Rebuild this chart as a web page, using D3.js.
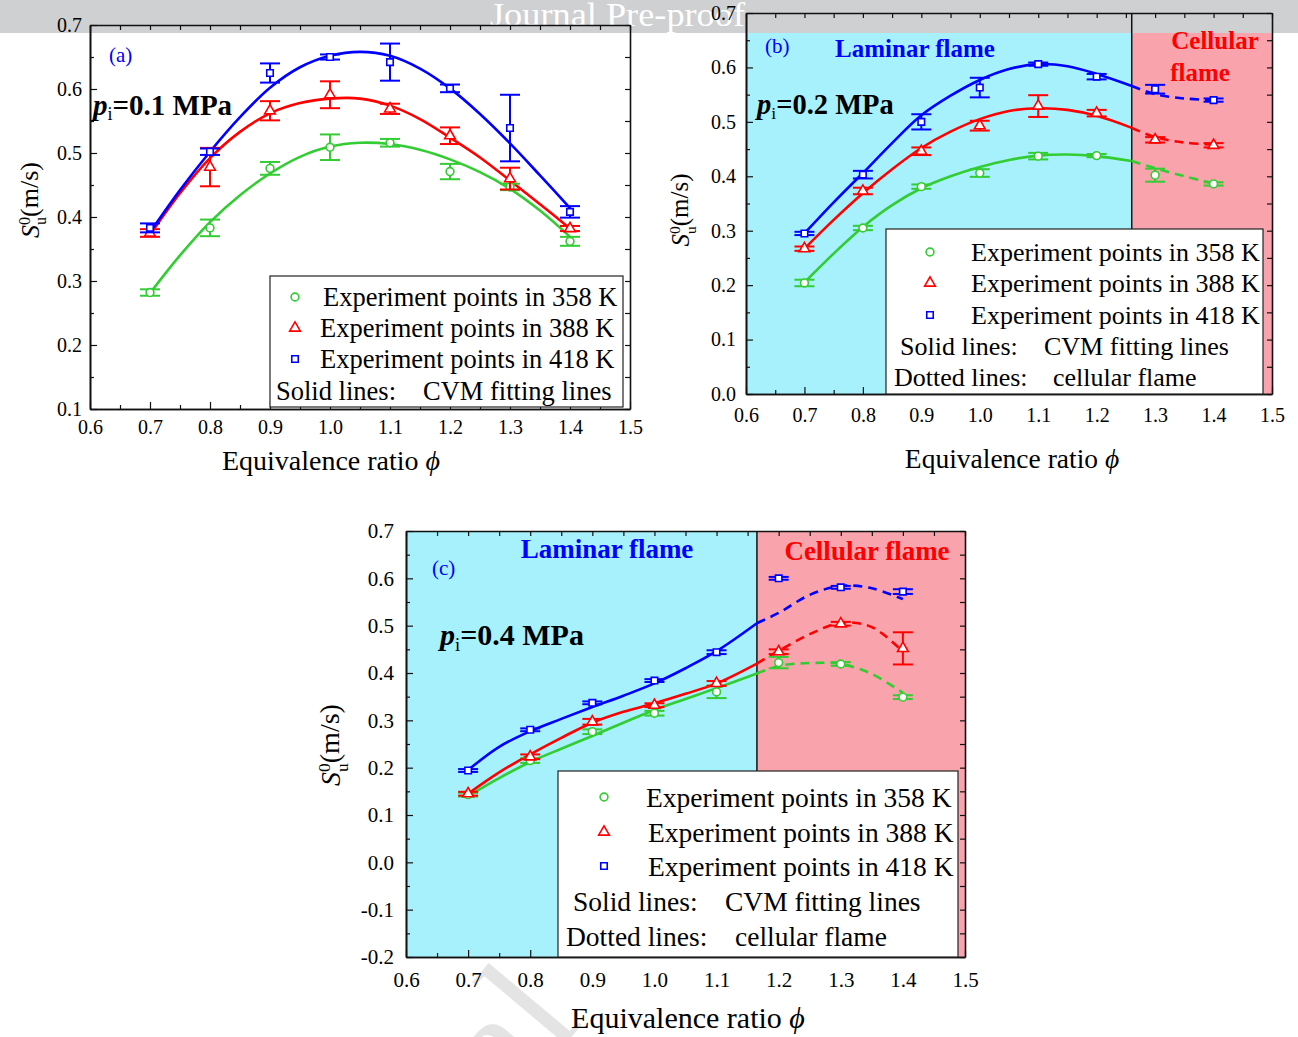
<!doctype html>
<html>
<head>
<meta charset="utf-8">
<script src="https://d3js.org/d3.v7.min.js"></script>
<style>
body { margin: 0; background: #fff; }
text { font-family: "Liberation Serif", "Times New Roman", serif; }
</style>
</head>
<body>
<script>
// equivalence ratio of the measured points
var phi = [0.7, 0.8, 0.9, 1.0, 1.1, 1.2, 1.3, 1.4];

// (a) 0.1 MPa
var a358 = [0.282, 0.383, 0.476, 0.509, 0.516, 0.471, 0.447, 0.362];
var a358Err = [0.005, 0.013, 0.010, 0.020, 0.006, 0.012, 0.005, 0.007];
var a388 = [0.375, 0.478, 0.566, 0.591, 0.569, 0.527, 0.460, 0.382];
var a388Err = [0.006, 0.030, 0.015, 0.021, 0.008, 0.013, 0.017, 0.004];
var a418 = [0.383, 0.502, 0.625, 0.650, 0.642, 0.601, 0.539, 0.408];
var a418Err = [0.007, 0.005, 0.015, 0.004, 0.029, 0.006, 0.052, 0.009];
var fitPhiA = [0.7, 0.75, 0.8, 0.85, 0.9, 0.95, 1.0, 1.05, 1.1, 1.15, 1.2, 1.25, 1.3, 1.35, 1.4];
var fitA358 = [0.281, 0.340, 0.392, 0.434, 0.468, 0.494, 0.510, 0.516, 0.514, 0.505, 0.490, 0.470, 0.444, 0.410, 0.369];
var fitA388 = [0.372, 0.437, 0.492, 0.533, 0.562, 0.578, 0.585, 0.585, 0.574, 0.553, 0.524, 0.493, 0.457, 0.420, 0.382];
var fitA418 = [0.376, 0.442, 0.502, 0.556, 0.602, 0.634, 0.652, 0.658, 0.652, 0.632, 0.601, 0.561, 0.515, 0.465, 0.414];

// (b) 0.2 MPa
var b358 = [0.204, 0.305, 0.381, 0.406, 0.437, 0.438, 0.402, 0.386];
var b358Err = [0.006, 0.004, 0.004, 0.007, 0.006, 0.003, 0.012, 0.003];
var b388 = [0.267, 0.373, 0.446, 0.493, 0.529, 0.516, 0.467, 0.457];
var b388Err = [0.004, 0.006, 0.007, 0.009, 0.020, 0.006, 0.005, 0.004];
var b418 = [0.295, 0.403, 0.500, 0.563, 0.606, 0.583, 0.560, 0.540];
var b418Err = [0.003, 0.007, 0.014, 0.018, 0.003, 0.005, 0.008, 0.003];
var divB = 1.26;
var fitPhiB = [0.7, 0.75, 0.8, 0.85, 0.9, 0.95, 1.0, 1.05, 1.1, 1.15, 1.2, 1.26, 1.3, 1.35, 1.4];
var fitB358 = [0.205, 0.258, 0.307, 0.347, 0.378, 0.400, 0.417, 0.430, 0.438, 0.440, 0.437, 0.428, 0.415, 0.400, 0.387];
var fitB388 = [0.267, 0.320, 0.369, 0.413, 0.452, 0.482, 0.505, 0.520, 0.525, 0.522, 0.511, 0.489, 0.472, 0.462, 0.458];
var fitB418 = [0.295, 0.352, 0.406, 0.461, 0.512, 0.548, 0.577, 0.597, 0.606, 0.602, 0.588, 0.566, 0.551, 0.543, 0.540];

// (c) 0.4 MPa
var c358 = [0.143, 0.215, 0.276, 0.315, 0.360, 0.422, 0.419, 0.349];
var c358Err = [0.004, 0.005, 0.005, 0.005, 0.013, 0.012, 0.004, 0.004];
var c388 = [0.145, 0.223, 0.297, 0.332, 0.378, 0.445, 0.504, 0.452];
var c388Err = [0.004, 0.005, 0.006, 0.004, 0.005, 0.005, 0.004, 0.034];
var c418 = [0.194, 0.280, 0.337, 0.384, 0.444, 0.600, 0.581, 0.572];
var c418Err = [0.003, 0.003, 0.003, 0.003, 0.004, 0.003, 0.003, 0.005];
var divC = 1.165;
var fitPhiC = [0.7, 0.75, 0.8, 0.85, 0.9, 0.95, 1.0, 1.05, 1.1, 1.165, 1.2, 1.25, 1.3, 1.35, 1.4];
var fitC358 = [0.140, 0.178, 0.212, 0.240, 0.267, 0.295, 0.322, 0.345, 0.368, 0.399, 0.415, 0.421, 0.419, 0.398, 0.358];
var fitC388 = [0.145, 0.190, 0.228, 0.263, 0.295, 0.318, 0.336, 0.356, 0.378, 0.420, 0.447, 0.482, 0.506, 0.497, 0.445];
var fitC418 = [0.195, 0.244, 0.277, 0.303, 0.328, 0.352, 0.378, 0.410, 0.446, 0.505, 0.527, 0.565, 0.584, 0.579, 0.556];

// ticks
var xTicks = [0.6, 0.7, 0.8, 0.9, 1.0, 1.1, 1.2, 1.3, 1.4, 1.5];
var yTicksA = [0.1, 0.2, 0.3, 0.4, 0.5, 0.6, 0.7];
var yTicksB = [0.0, 0.1, 0.2, 0.3, 0.4, 0.5, 0.6, 0.7];
var yTicksC = [-0.2, -0.1, 0.0, 0.1, 0.2, 0.3, 0.4, 0.5, 0.6, 0.7];

var legendLabels = ["Experiment points in 358 K", "Experiment points in 388 K", "Experiment points in 418 K"];

var green = "#33cc33", red = "#ff0000", blue = "#0000ff";
var cyan = "#a6f1fb", pink = "#f9a4ac";

var svg = d3.select("body").append("svg")
    .attr("width", 1298)
    .attr("height", 1037);

var bg = svg.append("g");
var banner = svg.append("g");
var main = svg.append("g");

// faint diagonal watermark, under the plot backgrounds
bg.append("text")
    .attr("transform", "translate(281,1383) rotate(-50)")
    .attr("font-family", "Liberation Sans, Arial, sans-serif")
    .attr("font-size", "160px")
    .attr("fill", "#000").attr("opacity", 0.1)
    .text("Journal");

banner.append("rect")
    .attr("x", 0).attr("y", 0)
    .attr("width", 1298).attr("height", 33)
    .attr("fill", "#cfd0d2");
banner.append("text")
    .attr("x", 490).attr("y", 26)
    .attr("font-size", "33px")
    .attr("textLength", 255).attr("lengthAdjust", "spacingAndGlyphs")
    .attr("fill", "#fff")
    .text("Journal Pre-proof");

function fmt(d) { return d.toFixed(1); }

function minors(ticks) {
    var m = [];
    for (var i = 0; i < ticks.length - 1; i++) m.push((ticks[i] + ticks[i + 1]) / 2);
    return m;
}

function styleAxis(sel, fs) {
    sel.attr("font-family", "Liberation Serif, serif").attr("font-size", fs);
    sel.select(".domain").attr("stroke", "#111").attr("stroke-width", 1.6);
    sel.selectAll(".tick line").attr("stroke", "#111").attr("stroke-width", 1.2);
    sel.selectAll(".tick text").attr("fill", "#000");
}

function drawPanel(p) {
    var x = d3.scaleLinear().domain([0.6, 1.5]).range([p.left, p.left + p.w]);
    var y = d3.scaleLinear().domain([p.yTicks[0], p.yTicks[p.yTicks.length - 1]]).range([p.top + p.h, p.top]);
    var yTop = p.yTicks[p.yTicks.length - 1], yBot = p.yTicks[0];

    // background
    if (p.div) {
        bg.append("rect").attr("x", x(0.6)).attr("y", y(yTop))
            .attr("width", x(p.div) - x(0.6)).attr("height", y(yBot) - y(yTop)).attr("fill", cyan);
        bg.append("rect").attr("x", x(p.div)).attr("y", y(yTop))
            .attr("width", x(1.5) - x(p.div)).attr("height", y(yBot) - y(yTop)).attr("fill", pink);
        main.append("line").attr("x1", x(p.div)).attr("x2", x(p.div))
            .attr("y1", y(yTop)).attr("y2", y(yBot)).attr("stroke", "#111").attr("stroke-width", 1.5);
    } else {
        bg.append("rect").attr("x", x(0.6)).attr("y", y(yTop))
            .attr("width", x(1.5) - x(0.6)).attr("height", y(yBot) - y(yTop)).attr("fill", "#fff");
    }

    var ax = main.append("g");
    ax.append("g").attr("transform", "translate(0," + y(yBot) + ")")
        .call(d3.axisBottom(x).tickValues(xTicks).tickSize(-7).tickSizeOuter(0).tickPadding(p.padX).tickFormat(fmt))
        .call(styleAxis, p.fs);
    ax.append("g").attr("transform", "translate(0," + y(yBot) + ")")
        .call(d3.axisBottom(x).tickValues(minors(xTicks)).tickSize(-4).tickSizeOuter(0).tickFormat(""))
        .call(styleAxis, p.fs);
    ax.append("g").attr("transform", "translate(0," + y(yTop) + ")")
        .call(d3.axisTop(x).tickValues(xTicks.concat(minors(xTicks))).tickSize(-5).tickSizeOuter(0).tickFormat(""))
        .call(styleAxis, p.fs);
    ax.append("g").attr("transform", "translate(" + x(0.6) + ",0)")
        .call(d3.axisLeft(y).tickValues(p.yTicks).tickSize(-7).tickSizeOuter(0).tickPadding(p.padY).tickFormat(fmt))
        .call(styleAxis, p.fs);
    ax.append("g").attr("transform", "translate(" + x(0.6) + ",0)")
        .call(d3.axisLeft(y).tickValues(minors(p.yTicks)).tickSize(-4).tickSizeOuter(0).tickFormat(""))
        .call(styleAxis, p.fs);
    ax.append("g").attr("transform", "translate(" + x(1.5) + ",0)")
        .call(d3.axisRight(y).tickValues(p.yTicks.concat(minors(p.yTicks))).tickSize(-5).tickSizeOuter(0).tickFormat(""))
        .call(styleAxis, p.fs);

    var line = d3.line()
        .x(function(d) { return x(d[0]); })
        .y(function(d) { return y(d[1]); })
        .curve(d3.curveCatmullRom.alpha(0.5));

    p.series.forEach(function(s) {
        var pts = p.fitPhi.map(function(f, i) { return [f, s.fit[i]]; });
        var cut = p.div || 9;
        main.append("path")
            .attr("d", line(pts.filter(function(d) { return d[0] <= cut + 1e-9; })))
            .attr("fill", "none").attr("stroke", s.color).attr("stroke-width", 2.6);
        if (p.div) {
            main.append("path")
                .attr("d", line(pts.filter(function(d) { return d[0] >= cut - 1e-9; })))
                .attr("fill", "none").attr("stroke", s.color).attr("stroke-width", 2.6)
                .attr("stroke-dasharray", "9,6");
        }
    });

    p.series.forEach(function(s) {
        var g = main.append("g").attr("stroke", s.color).attr("stroke-width", 2).attr("fill", "none");
        phi.forEach(function(f, i) {
            var cx = x(f), y1 = y(s.vals[i] + s.err[i]), y2 = y(s.vals[i] - s.err[i]);
            g.append("line").attr("x1", cx).attr("x2", cx).attr("y1", y1).attr("y2", y2);
            g.append("line").attr("x1", cx - 10).attr("x2", cx + 10).attr("y1", y1).attr("y2", y1);
            g.append("line").attr("x1", cx - 10).attr("x2", cx + 10).attr("y1", y2).attr("y2", y2);
        });
        g.selectAll("path.pt")
            .data(phi.map(function(f, i) { return [f, s.vals[i]]; }))
            .enter().append("path")
            .attr("class", "pt")
            .attr("transform", function(d) { return "translate(" + x(d[0]) + "," + y(d[1]) + ")"; })
            .attr("d", d3.symbol().type(s.sym).size(s.size))
            .attr("fill", "#fff").attr("stroke-width", 1.6);
    });
    return { x: x, y: y };
}

function seriesSet(v1, e1, f1, v2, e2, f2, v3, e3, f3) {
    return [
        { vals: v1, err: e1, fit: f1, color: green, sym: d3.symbolCircle, size: 48 },
        { vals: v2, err: e2, fit: f2, color: red, sym: d3.symbolTriangle, size: 50 },
        { vals: v3, err: e3, fit: f3, color: blue, sym: d3.symbolSquare, size: 42 }
    ];
}

drawPanel({ left: 90, top: 25, w: 540, h: 384, yTicks: yTicksA, fs: "20px", padX: 11, padY: 8,
    fitPhi: fitPhiA, series: seriesSet(a358, a358Err, fitA358, a388, a388Err, fitA388, a418, a418Err, fitA418) });
drawPanel({ left: 746, top: 13, w: 526, h: 381, yTicks: yTicksB, fs: "20px", padX: 14, padY: 10, div: divB,
    fitPhi: fitPhiB, series: seriesSet(b358, b358Err, fitB358, b388, b388Err, fitB388, b418, b418Err, fitB418) });
drawPanel({ left: 406, top: 531, w: 559, h: 426, yTicks: yTicksC, fs: "21px", padX: 15, padY: 12, div: divC,
    fitPhi: fitPhiC, series: seriesSet(c358, c358Err, fitC358, c388, c388Err, fitC388, c418, c418Err, fitC418) });

// legends
function legend(L) {
    main.append("rect").attr("x", L.x0).attr("y", L.y0)
        .attr("width", L.x1 - L.x0).attr("height", L.y1 - L.y0)
        .attr("fill", "#fff").attr("stroke", "#222").attr("stroke-width", 1.2);
    var syms = [[d3.symbolCircle, green, 48], [d3.symbolTriangle, red, 50], [d3.symbolSquare, blue, 42]];
    legendLabels.forEach(function(t, i) {
        main.append("path")
            .attr("transform", "translate(" + L.mx + "," + L.rows[i] + ")")
            .attr("d", d3.symbol().type(syms[i][0]).size(syms[i][2]))
            .attr("fill", "#fff").attr("stroke", syms[i][1]).attr("stroke-width", 1.6);
        main.append("text").attr("x", L.tx[i]).attr("y", L.rows[i]).attr("dy", "0.35em")
            .attr("font-size", L.fs).text(t);
    });
    L.extra.forEach(function(e, j) {
        main.append("text").attr("x", e[0]).attr("y", L.rows[3 + j]).attr("dy", "0.35em")
            .attr("font-size", L.fs).text(e[1]);
        main.append("text").attr("x", e[2]).attr("y", L.rows[3 + j]).attr("dy", "0.35em")
            .attr("font-size", L.fs).text(e[3]);
    });
}

legend({ x0: 270, y0: 276, x1: 623, y1: 407, mx: 295, rows: [297, 328, 359, 391], tx: [323, 320, 320], fs: "26.5px",
    extra: [[276, "Solid lines:", 423, "CVM fitting lines"]] });
legend({ x0: 886, y0: 229, x1: 1263, y1: 394, mx: 930, rows: [252, 283, 315, 346, 377], tx: [971, 971, 971], fs: "26px",
    extra: [[900, "Solid lines:", 1044, "CVM fitting lines"], [894, "Dotted lines:", 1053, "cellular flame"]] });
legend({ x0: 558, y0: 771, x1: 958, y1: 957, mx: 604, rows: [797, 832, 866, 901, 936], tx: [646, 648, 648], fs: "27.5px",
    extra: [[573, "Solid lines:", 725, "CVM fitting lines"], [566, "Dotted lines:", 735, "cellular flame"]] });

// annotations
function note(x, y, txt, size, color, weight, anchor) {
    main.append("text").attr("x", x).attr("y", y).attr("dy", "0.35em")
        .attr("font-size", size).attr("fill", color).attr("font-weight", weight || "normal")
        .attr("text-anchor", anchor || "start").text(txt);
}
note(109, 55, "(a)", "21px", blue);
note(765, 46, "(b)", "21px", blue);
note(432, 568, "(c)", "21px", blue);
note(915, 48, "Laminar flame", "25px", blue, "bold", "middle");
note(1215, 40, "Cellular", "25px", red, "bold", "middle");
note(1200, 72, "flame", "25px", red, "bold", "middle");
note(607, 549, "Laminar flame", "27px", blue, "bold", "middle");
note(867, 551, "Cellular flame", "27px", red, "bold", "middle");

function pLabel(x, y, val, size) {
    var t = main.append("text").attr("x", x).attr("y", y).attr("font-size", size).attr("font-weight", "bold");
    t.append("tspan").attr("font-style", "italic").text("p");
    t.append("tspan").attr("font-weight", "normal").attr("font-size", "0.62em").attr("dy", "0.3em").text("i");
    t.append("tspan").attr("dy", "-0.2em").text("=" + val + " MPa");
}
pLabel(93, 115, "0.1", "29px");
pLabel(757, 114, "0.2", "28.5px");
pLabel(440, 645, "0.4", "30px");

function yLabel(x, y, size) {
    var t = main.append("text").attr("transform", "translate(" + x + "," + y + ") rotate(-90)")
        .attr("text-anchor", "middle").attr("font-size", size);
    t.append("tspan").attr("font-style", "italic").text("S");
    t.append("tspan").attr("font-size", "0.62em").attr("dy", "-0.55em").text("0");
    t.append("tspan").attr("font-size", "0.62em").attr("dx", "-0.5em").attr("dy", "1.0em").text("u");
    t.append("tspan").attr("dy", "-0.3em").text("(m/s)");
}
yLabel(39, 200, "26px");
yLabel(689, 210, "25px");
yLabel(340, 745, "28px");

function xLabel(x, y, size) {
    var t = main.append("text").attr("x", x).attr("y", y).attr("dy", "0.35em")
        .attr("text-anchor", "middle").attr("font-size", size);
    t.append("tspan").text("Equivalence ratio ");
    t.append("tspan").attr("font-style", "italic").text("\u03d5");
}
xLabel(331, 460, "28px");
xLabel(1012, 458, "27.5px");
xLabel(688, 1017, "30px");
</script>
</body>
</html>
